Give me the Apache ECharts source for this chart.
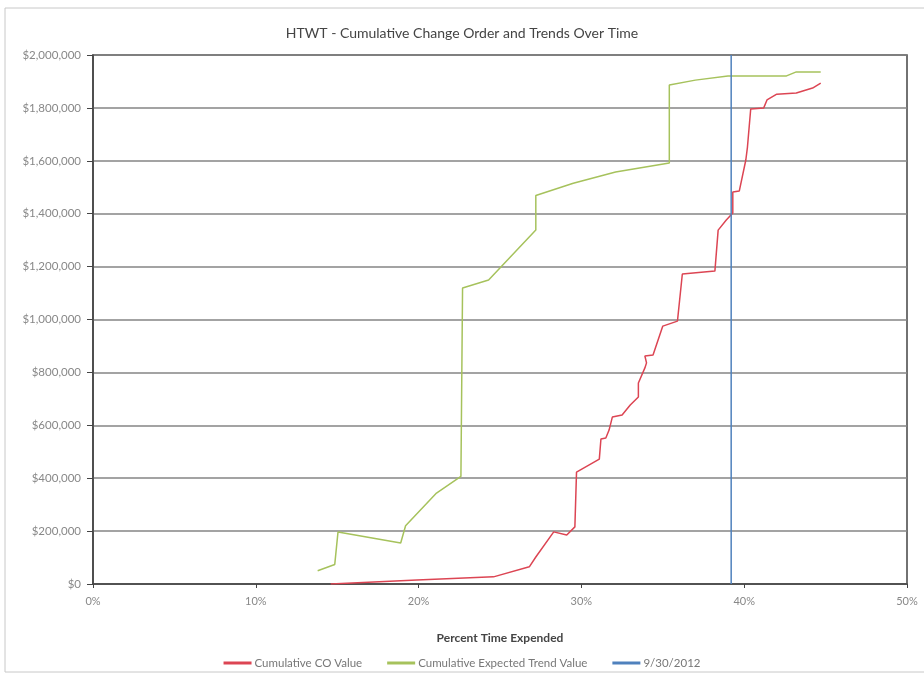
<!DOCTYPE html>
<html>
<head>
<meta charset="utf-8">
<script src="https://cdn.jsdelivr.net/npm/echarts@6/dist/echarts.min.js"></script>
<style>
  html, body { margin: 0; padding: 0; background: #fff; }
  #chart-container { width: 924px; height: 677px; }
</style>
</head>
<body>
<div id="chart-container"></div>
<script>
// percent time expended (x) and cumulative dollars (y)
const coValue = [
  [14.6, 0], [19.9, 15000], [24.6, 27000], [26.8, 65000], [27.2, 102000],
  [28.3, 197000], [29.1, 185000], [29.6, 216000], [29.7, 423000], [31.1, 472000],
  [31.2, 548000], [31.5, 552000], [31.7, 582000], [31.9, 631000], [32.5, 639000],
  [33.0, 677000], [33.5, 707000], [33.5, 760000], [33.9, 817000], [34.0, 836000],
  [33.9, 862000], [34.4, 866000], [35.0, 975000], [35.9, 994000], [36.2, 1172000],
  [38.2, 1183000], [38.4, 1338000], [38.9, 1376000], [39.3, 1403000], [39.3, 1482000],
  [39.7, 1486000], [40.1, 1603000], [40.2, 1652000], [40.4, 1796000], [41.2, 1800000],
  [41.4, 1830000], [42.0, 1852000], [43.2, 1856000], [44.2, 1875000], [44.7, 1894000]
];
const trendValue = [
  [13.8, 50000], [14.85, 74000], [15.05, 197000], [18.9, 155000], [19.2, 220000],
  [21.1, 344000], [22.6, 407000], [22.7, 1119000], [24.3, 1149000], [27.2, 1338000],
  [27.2, 1469000], [29.5, 1515000], [32.1, 1558000], [35.4, 1592000], [35.4, 1887000],
  [37.0, 1905000], [39.0, 1921000], [42.6, 1921000], [43.2, 1936000], [44.7, 1936000]
];
const statusDate = [[39.2, 0], [39.2, 2000000]];
const seriesNames = ['Cumulative CO Value', 'Cumulative Expected Trend Value', '9/30/2012'];
const seriesColors = ['#dc4553', '#a6c25c', '#4f81bd'];

const chart = echarts.init(document.getElementById('chart-container'));
const fontFamily = 'Lato, "Open Sans", sans-serif';

const options = {
  animation: false,
  textStyle: { fontFamily: fontFamily },
  title: {
    text: 'HTWT - Cumulative Change Order and Trends Over Time',
    left: 'center',
    top: 21,
    textStyle: { fontSize: 14, fontWeight: 'normal', color: '#444', fontFamily: fontFamily }
  },
  graphic: [{
    type: 'rect',
    shape: { x: 5, y: 8, width: 940, height: 664 },
    style: { fill: 'none', stroke: '#c8c8c8', lineWidth: 1 },
    silent: true
  }],
  grid: {
    left: 93, right: 17, top: 55, bottom: 93,
    show: true, borderColor: '#444', borderWidth: 1.5
  },
  legend: {
    top: 652,
    left: 'center',
    itemGap: 25,
    itemWidth: 28,
    itemHeight: 3,
    icon: 'rect',
    textStyle: { fontSize: 11.5, color: '#777', padding: [0, 0, 0, -2] },
    data: seriesNames
  },
  xAxis: {
    type: 'value',
    min: 0, max: 50, interval: 10,
    name: 'Percent Time Expended',
    nameLocation: 'middle',
    nameGap: 48,
    nameTextStyle: { fontSize: 12, fontWeight: 'bold', color: '#444' },
    axisLine: { show: true, lineStyle: { color: '#444', width: 1.5 } },
    axisTick: { show: true, length: 4, lineStyle: { color: '#444' } },
    axisLabel: { formatter: '{value}%', fontSize: 11, color: '#888', margin: 12 },
    splitLine: { show: false }
  },
  yAxis: {
    type: 'value',
    min: 0, max: 2000000, interval: 200000,
    axisLine: { show: true, lineStyle: { color: '#444', width: 1.5 } },
    axisTick: { show: true, length: 6, lineStyle: { color: '#444' } },
    axisLabel: {
      fontSize: 11.5, color: '#888', margin: 12,
      formatter: v => '$' + v.toLocaleString('en-US')
    },
    splitLine: { show: true, lineStyle: { color: '#858585', width: 1.5 } }
  },
  series: [
    {
      name: seriesNames[0], type: 'line', data: coValue, showSymbol: false,
      lineStyle: { color: seriesColors[0], width: 1.5 }, itemStyle: { color: seriesColors[0] }
    },
    {
      name: seriesNames[1], type: 'line', data: trendValue, showSymbol: false,
      lineStyle: { color: seriesColors[1], width: 1.5 }, itemStyle: { color: seriesColors[1] }
    },
    {
      name: seriesNames[2], type: 'line', data: statusDate, showSymbol: false,
      lineStyle: { color: seriesColors[2], width: 1.5 }, itemStyle: { color: seriesColors[2] }
    }
  ]
};

chart.setOption(options);
</script>
</body>
</html>
